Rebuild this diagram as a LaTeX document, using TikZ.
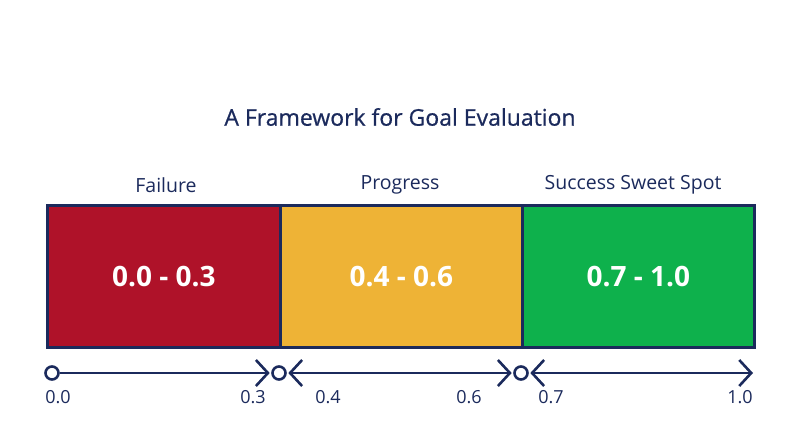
\documentclass[tikz,border=0pt]{standalone}
\usepackage{fontspec}
\setmainfont{Open Sans}
\newfontfamily\titlefont{Open Sans}[FakeBold=0.7]
\usetikzlibrary{arrows.meta}
\definecolor{navy}{HTML}{1B2A5C}
\definecolor{cred}{HTML}{AF1229}
\definecolor{cyellow}{HTML}{EEB336}
\definecolor{cgreen}{HTML}{0EB14C}
\tikzset{
  band/.style={draw=navy, line width=2.6pt, minimum height=142pt, inner sep=0pt, anchor=north west},
  bandtxt/.style={text=white, font=\fontsize{28}{33}\selectfont\bfseries},
  head/.style={text=navy, font=\fontsize{19.5}{23}\selectfont},
  tick/.style={circle, draw=navy, fill=white, line width=2.6pt, minimum size=13pt, inner sep=0pt},
  barb/.tip={Straight Barb[length=12pt,width=26pt,line width=2.6pt]},
  ax/.style={draw=navy, line width=2.6pt, arrows={-barb}},
  ax2/.style={draw=navy, line width=2.6pt, arrows={barb-barb}},
  num/.style={text=navy, font=\fontsize{18}{21}\selectfont}
}
\begin{document}
\begin{tikzpicture}[x=1pt,y=-1pt]
\useasboundingbox (0,0) rectangle (800,447);
\node[text=navy, font=\titlefont\fontsize{23}{27}\selectfont] (title) at (400,117) {A Framework for Goal Evaluation};
\node[band, fill=cred, minimum width=233pt] (b1) at (46,204) {};
\node[band, fill=cyellow, minimum width=242pt] (b2) at (279,204) {};
\node[band, fill=cgreen, minimum width=232pt] (b3) at (521,204) {};
\node[bandtxt] at (b1.center) {0.0 - 0.3};
\node[bandtxt] at (b2.center) {0.4 - 0.6};
\node[bandtxt] at (b3.center) {0.7 - 1.0};
\node[head] (h1) at (166,185) {Failure};
\node[head] (h2) at (400,185) {Progress};
\node[head] (h3) at (633,185) {Success Sweet Spot};
\node[tick] (c0) at (52,373) {};
\node[tick] (c1) at (279,373) {};
\node[tick] (c2) at (521,373) {};
\coordinate (e3) at (753,373);
\draw[ax] (c0.east) -- ([xshift=-1.5pt]c1.west);
\draw[ax2] ([xshift=1.5pt]c1.east) -- ([xshift=-1.5pt]c2.west);
\draw[ax2] ([xshift=1.5pt]c2.east) -- (e3);
\node[num] (n0) at (58,397) {0.0};
\node[num] (n3) at (253,397) {0.3};
\node[num] (n4) at (328,397) {0.4};
\node[num] (n6) at (469,397) {0.6};
\node[num] (n7) at (551,397) {0.7};
\node[num] (n10) at (740,397) {1.0};
\end{tikzpicture}
\end{document}
